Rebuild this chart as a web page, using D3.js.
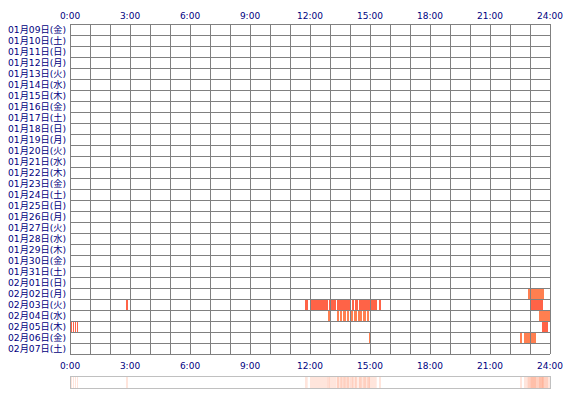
<!DOCTYPE html>
<html>
<head>
<meta charset="utf-8">
<script src="https://cdn.jsdelivr.net/npm/d3@7"></script>
<style>
  body { margin: 0; background: #fff; }
  text { font-family: "DejaVu Sans", "Noto Sans CJK JP", sans-serif; fill: #000080; }
</style>
</head>
<body>
<div id="chart"></div>
<script>
// day rows, top to bottom
const days = [
  "01月09日(金)", "01月10日(土)", "01月11日(日)", "01月12日(月)", "01月13日(火)",
  "01月14日(水)", "01月15日(木)", "01月16日(金)", "01月17日(土)", "01月18日(日)",
  "01月19日(月)", "01月20日(火)", "01月21日(水)", "01月22日(木)", "01月23日(金)",
  "01月24日(土)", "01月25日(日)", "01月26日(月)", "01月27日(火)", "01月28日(水)",
  "01月29日(木)", "01月30日(金)", "01月31日(土)", "02月01日(日)", "02月02日(月)",
  "02月03日(火)", "02月04日(水)", "02月05日(木)", "02月06日(金)", "02月07日(土)"
];
const hourTicks = [0, 3, 6, 9, 12, 15, 18, 21, 24];

// activity sessions: day label, start minute, end minute, kind (0 = dark, 1 = light)
const sessDay = [
  "02月02日(月)", "02月02日(月)",
  "02月03日(火)", "02月03日(火)", "02月03日(火)", "02月03日(火)", "02月03日(火)",
  "02月03日(火)", "02月03日(火)", "02月03日(火)", "02月03日(火)", "02月03日(火)",
  "02月04日(水)", "02月04日(水)", "02月04日(水)", "02月04日(水)", "02月04日(水)",
  "02月04日(水)", "02月04日(水)", "02月04日(水)", "02月04日(水)", "02月04日(水)",
  "02月04日(水)",
  "02月05日(木)", "02月05日(木)", "02月05日(木)", "02月05日(木)", "02月05日(木)",
  "02月06日(金)", "02月06日(金)", "02月06日(金)", "02月06日(金)"
];
const sessStart = [
  1373, 1380,
  168, 705, 720, 778, 800, 845, 855, 867, 927, 1382,
  773, 800, 811, 820, 830, 842, 852, 865, 880, 892, 1407,
  3, 9, 15, 21, 1416,
  897, 1350, 1362, 1380
];
const sessEnd = [
  1380, 1422,
  174, 713, 775, 798, 843, 852, 863, 920, 933, 1418,
  780, 807, 817, 827, 837, 850, 860, 875, 888, 898, 1440,
  6, 12, 18, 24, 1434,
  900, 1356, 1380, 1398
];
const sessKind = [
  1, 1,
  0, 0, 0, 0, 0, 0, 0, 0, 0, 0,
  1, 1, 1, 1, 1, 1, 1, 1, 1, 1, 1,
  0, 0, 0, 0, 0,
  1, 1, 1, 1
];

const width = 570, height = 400;
const rowH = 11;

const svg = d3.select("#chart").append("svg")
  .attr("width", width)
  .attr("height", height);

const x = d3.scaleLinear().domain([0, 24 * 60]).range([70, 550]);
const y = d3.scaleBand().domain(days).range([24, 24 + days.length * rowH]);

const sessions = sessDay.map((d, i) => ({
  day: d, start: sessStart[i], end: sessEnd[i], kind: sessKind[i]
}));
const colors = ["#ff6347", "#ff7f50"];

// bars
svg.append("g")
  .attr("shape-rendering", "crispEdges")
  .selectAll("rect")
  .data(sessions)
  .enter()
  .append("rect")
  .attr("x", d => Math.round(x(d.start)))
  .attr("y", d => y(d.day))
  .attr("width", d => Math.max(1, Math.round(x(d.end)) - Math.round(x(d.start))))
  .attr("height", rowH)
  .attr("fill", d => colors[d.kind]);

// grid
const grid = svg.append("g")
  .attr("stroke", "#808080")
  .attr("stroke-width", 1)
  .attr("shape-rendering", "crispEdges");

grid.selectAll(".v")
  .data(d3.range(0, 25))
  .enter()
  .append("line")
  .attr("x1", h => Math.round(x(h * 60)) + 0.5)
  .attr("x2", h => Math.round(x(h * 60)) + 0.5)
  .attr("y1", y.range()[0])
  .attr("y2", y.range()[1]);

grid.selectAll(".h")
  .data(d3.range(0, days.length + 1))
  .enter()
  .append("line")
  .attr("x1", x.range()[0])
  .attr("x2", x.range()[1])
  .attr("y1", i => y.range()[0] + i * rowH + 0.5)
  .attr("y2", i => y.range()[0] + i * rowH + 0.5);

// day labels
svg.append("g").selectAll("text")
  .data(days)
  .enter()
  .append("text")
  .attr("x", 66)
  .attr("y", d => y(d) + rowH / 2 + 3.5)
  .attr("text-anchor", "end")
  .attr("font-size", 9)
  .attr("textLength", 58)
  .attr("lengthAdjust", "spacingAndGlyphs")
  .text(d => d);

// hour labels, top and bottom
[19, 369].forEach(yy => {
  svg.append("g").selectAll("text")
    .data(hourTicks)
    .enter()
    .append("text")
    .attr("x", h => x(h * 60))
    .attr("y", yy)
    .attr("text-anchor", "middle")
    .attr("font-size", 9)
    .text(h => h + ":00");
});

// summary strip
const strip = svg.append("g");
strip.selectAll("rect")
  .data(sessions)
  .enter()
  .append("rect")
  .attr("x", d => x(d.start))
  .attr("y", 377)
  .attr("width", d => x(d.end) - x(d.start))
  .attr("height", 11)
  .attr("fill", "#ff7f50")
  .attr("fill-opacity", 0.2);

strip.append("rect")
  .attr("x", 70.5)
  .attr("y", 376.5)
  .attr("width", 480)
  .attr("height", 12)
  .attr("fill", "none")
  .attr("stroke", "#c0c0c0")
  .attr("stroke-width", 1);
</script>
</body>
</html>
